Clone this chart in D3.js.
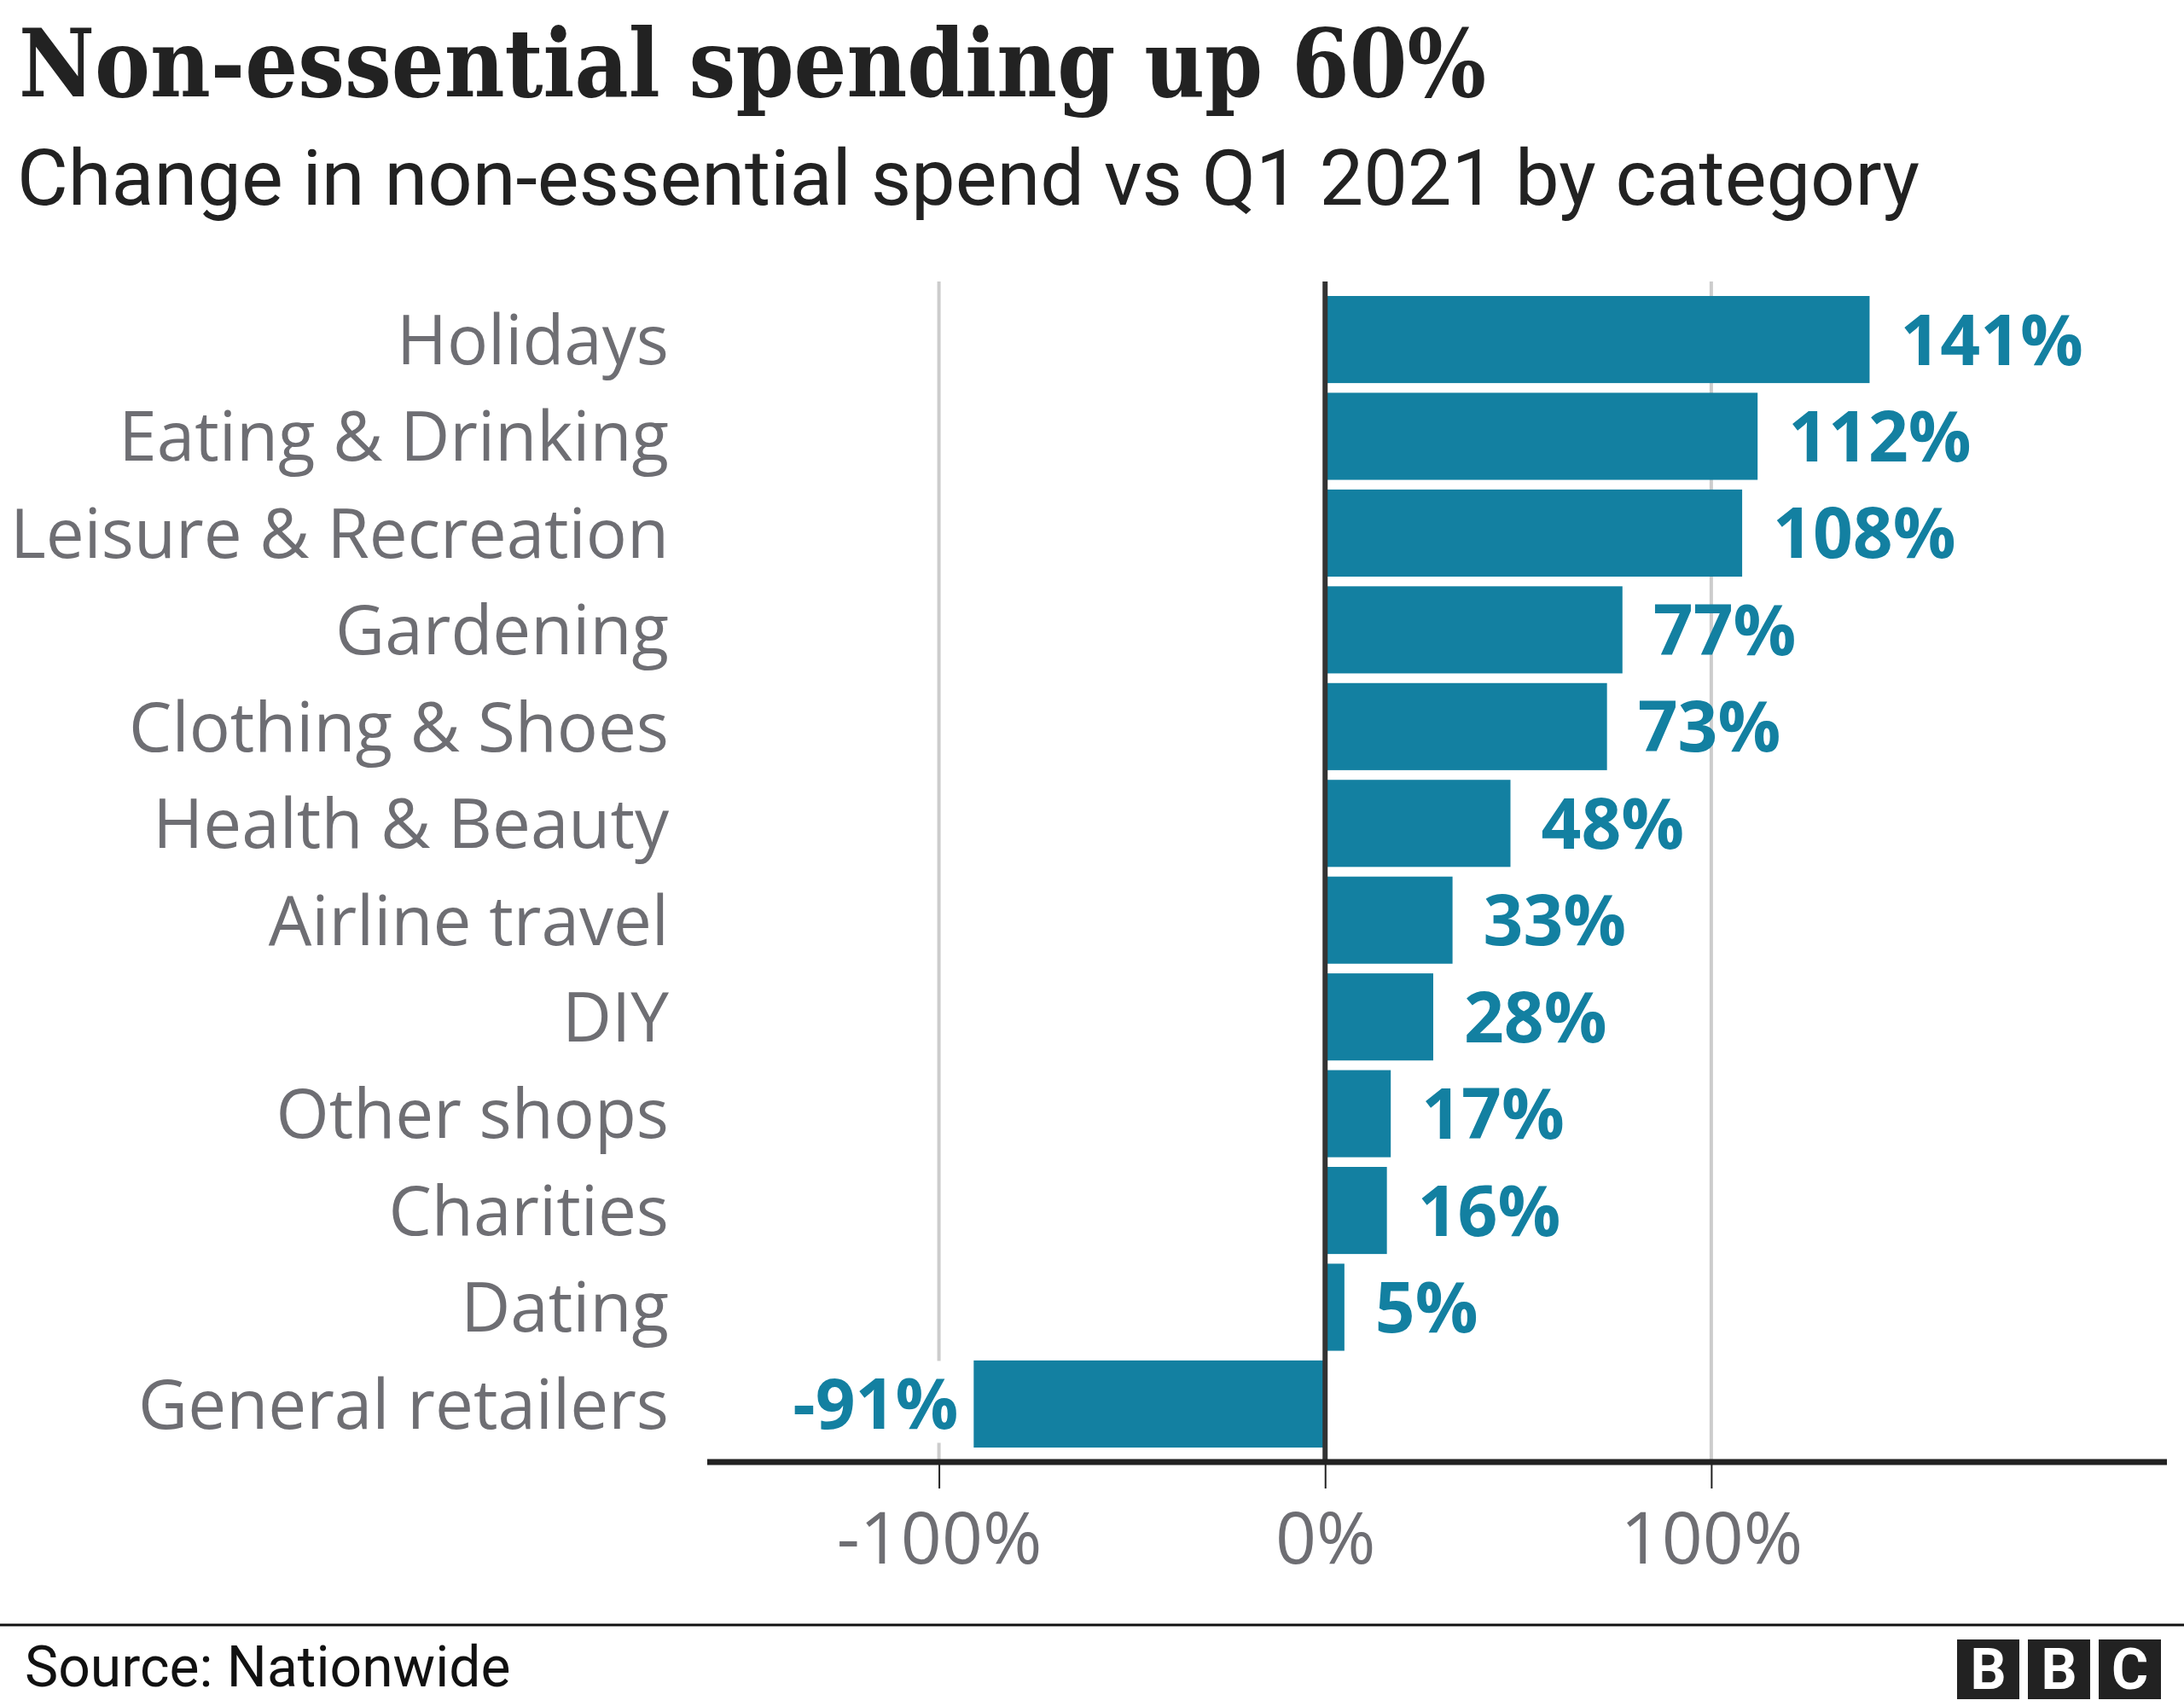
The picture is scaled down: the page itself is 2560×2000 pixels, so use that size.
<!DOCTYPE html>
<html>
<head>
<meta charset="utf-8">
<script src="https://cdn.jsdelivr.net/npm/d3@7"></script>
<style>
  html, body { margin: 0; padding: 0; background: #fff; }
  svg { display: block; }
</style>
</head>
<body>
<svg id="chart" width="2560" height="2000"></svg>
<script>
const categories = ["Holidays", "Eating & Drinking", "Leisure & Recreation", "Gardening",
  "Clothing & Shoes", "Health & Beauty", "Airline travel", "DIY", "Other shops",
  "Charities", "Dating", "General retailers"];
const values = [141, 112, 108, 77, 73, 48, 33, 28, 17, 16, 5, -91];
const tickValues = [-100, 0, 100];
const tickLabels = ["-100%", "0%", "100%"];
const titleText = "Non-essential spending up 60%";
const subtitleText = "Change in non-essential spend vs Q1 2021 by category";
const sourceText = "Source: Nationwide";

const barColor = "#1380A1";
const labelGray = "#6e6e73";
const sans = "'Open Sans', Roboto, sans-serif";
const sans2 = "Roboto, 'Open Sans', sans-serif";

const svg = d3.select("#chart");

svg.append("rect").attr("width", 2560).attr("height", 2000).attr("fill", "#fff");

// Title & subtitle
svg.append("text").attr("x", 22).attr("y", 113)
  .attr("font-family", "'DejaVu Serif', serif").attr("font-weight", "bold")
  .attr("font-size", 110).attr("fill", "#222")
  .attr("textLength", 1720).attr("lengthAdjust", "spacingAndGlyphs")
  .text(titleText);
svg.append("text").attr("x", 20).attr("y", 240)
  .attr("font-family", sans2).attr("font-size", 91).attr("fill", "#222")
  .attr("textLength", 2230).attr("lengthAdjust", "spacingAndGlyphs")
  .text(subtitleText);

const x = d3.scaleLinear().domain([-160, 218]).range([829, 2540]);
const y = d3.scaleBand().domain(categories).range([347, 1697]).paddingInner(0.1).paddingOuter(0);

const axisY = 1714;
const gridTop = 330;

// gridlines
svg.append("g").selectAll("line").data(tickValues.filter(v => v !== 0)).join("line")
  .attr("x1", d => x(d)).attr("x2", d => x(d))
  .attr("y1", gridTop).attr("y2", axisY)
  .attr("stroke", "#cccccc").attr("stroke-width", 4);

// bars
svg.append("g").selectAll("rect").data(categories).join("rect")
  .attr("x", (d, i) => x(Math.min(0, values[i])))
  .attr("y", d => y(d))
  .attr("width", (d, i) => Math.abs(x(values[i]) - x(0)))
  .attr("height", y.bandwidth())
  .attr("fill", barColor);

// category labels
svg.append("g").selectAll("text").data(categories).join("text")
  .attr("x", 784)
  .attr("y", d => y(d) + y.bandwidth() / 2)
  .attr("dy", "0.36em")
  .attr("text-anchor", "end")
  .attr("font-family", sans).attr("font-size", 80).attr("fill", labelGray)
  .text(d => d);

// value labels
const vl = svg.append("g").selectAll("g").data(categories).join("g");
vl.each(function(d, i) {
  const v = values[i];
  const g = d3.select(this);
  const t = g.append("text")
    .attr("x", v >= 0 ? x(v) + 36 : x(v) - 18)
    .attr("y", y(d) + y.bandwidth() / 2)
    .attr("dy", "0.36em")
    .attr("text-anchor", v >= 0 ? "start" : "end")
    .attr("font-family", sans).attr("font-weight", "bold")
    .attr("font-size", 82).attr("fill", barColor)
    .text(v + "%");
  if (v < 0) {
    const bb = t.node().getBBox();
    g.insert("rect", "text").attr("x", bb.x - 6).attr("y", bb.y + 8)
      .attr("width", bb.width + 12).attr("height", bb.height - 16).attr("fill", "#fff");
  }
});

// zero line
svg.append("line").attr("x1", x(0)).attr("x2", x(0))
  .attr("y1", gridTop).attr("y2", axisY)
  .attr("stroke", "#333").attr("stroke-width", 6);

// x axis
const axis = d3.axisBottom(x).tickValues(tickValues)
  .tickFormat((d, i) => tickLabels[i]).tickSize(31).tickPadding(12);
const ag = svg.append("g").attr("transform", `translate(0,${axisY})`).call(axis);
ag.select(".domain").remove();
ag.selectAll(".tick line").attr("stroke", "#222").attr("stroke-width", 2);
ag.selectAll(".tick text").attr("font-family", sans).attr("font-size", 84)
  .attr("fill", labelGray).attr("dy", "0.9em");
svg.append("line").attr("x1", x(-160)).attr("x2", x(218))
  .attr("y1", axisY).attr("y2", axisY)
  .attr("stroke", "#222").attr("stroke-width", 7);

// footer
svg.append("line").attr("x1", 0).attr("x2", 2560).attr("y1", 1905).attr("y2", 1905)
  .attr("stroke", "#111").attr("stroke-width", 3);
svg.append("text").attr("x", 29).attr("y", 1977)
  .attr("font-family", sans2).attr("font-size", 66).attr("fill", "#111")
  .text(sourceText);

// BBC logo
const logo = svg.append("g");
["B", "B", "C"].forEach((ch, i) => {
  const bx = 2294 + i * 83;
  logo.append("rect").attr("x", bx).attr("y", 1922).attr("width", 73).attr("height", 70).attr("fill", "#222");
  logo.append("text").attr("x", bx + 36.5).attr("y", 1980).attr("text-anchor", "middle")
    .attr("font-family", sans2).attr("font-weight", "bold").attr("font-size", 66).attr("fill", "#fff")
    .text(ch);
});
</script>
</body>
</html>
